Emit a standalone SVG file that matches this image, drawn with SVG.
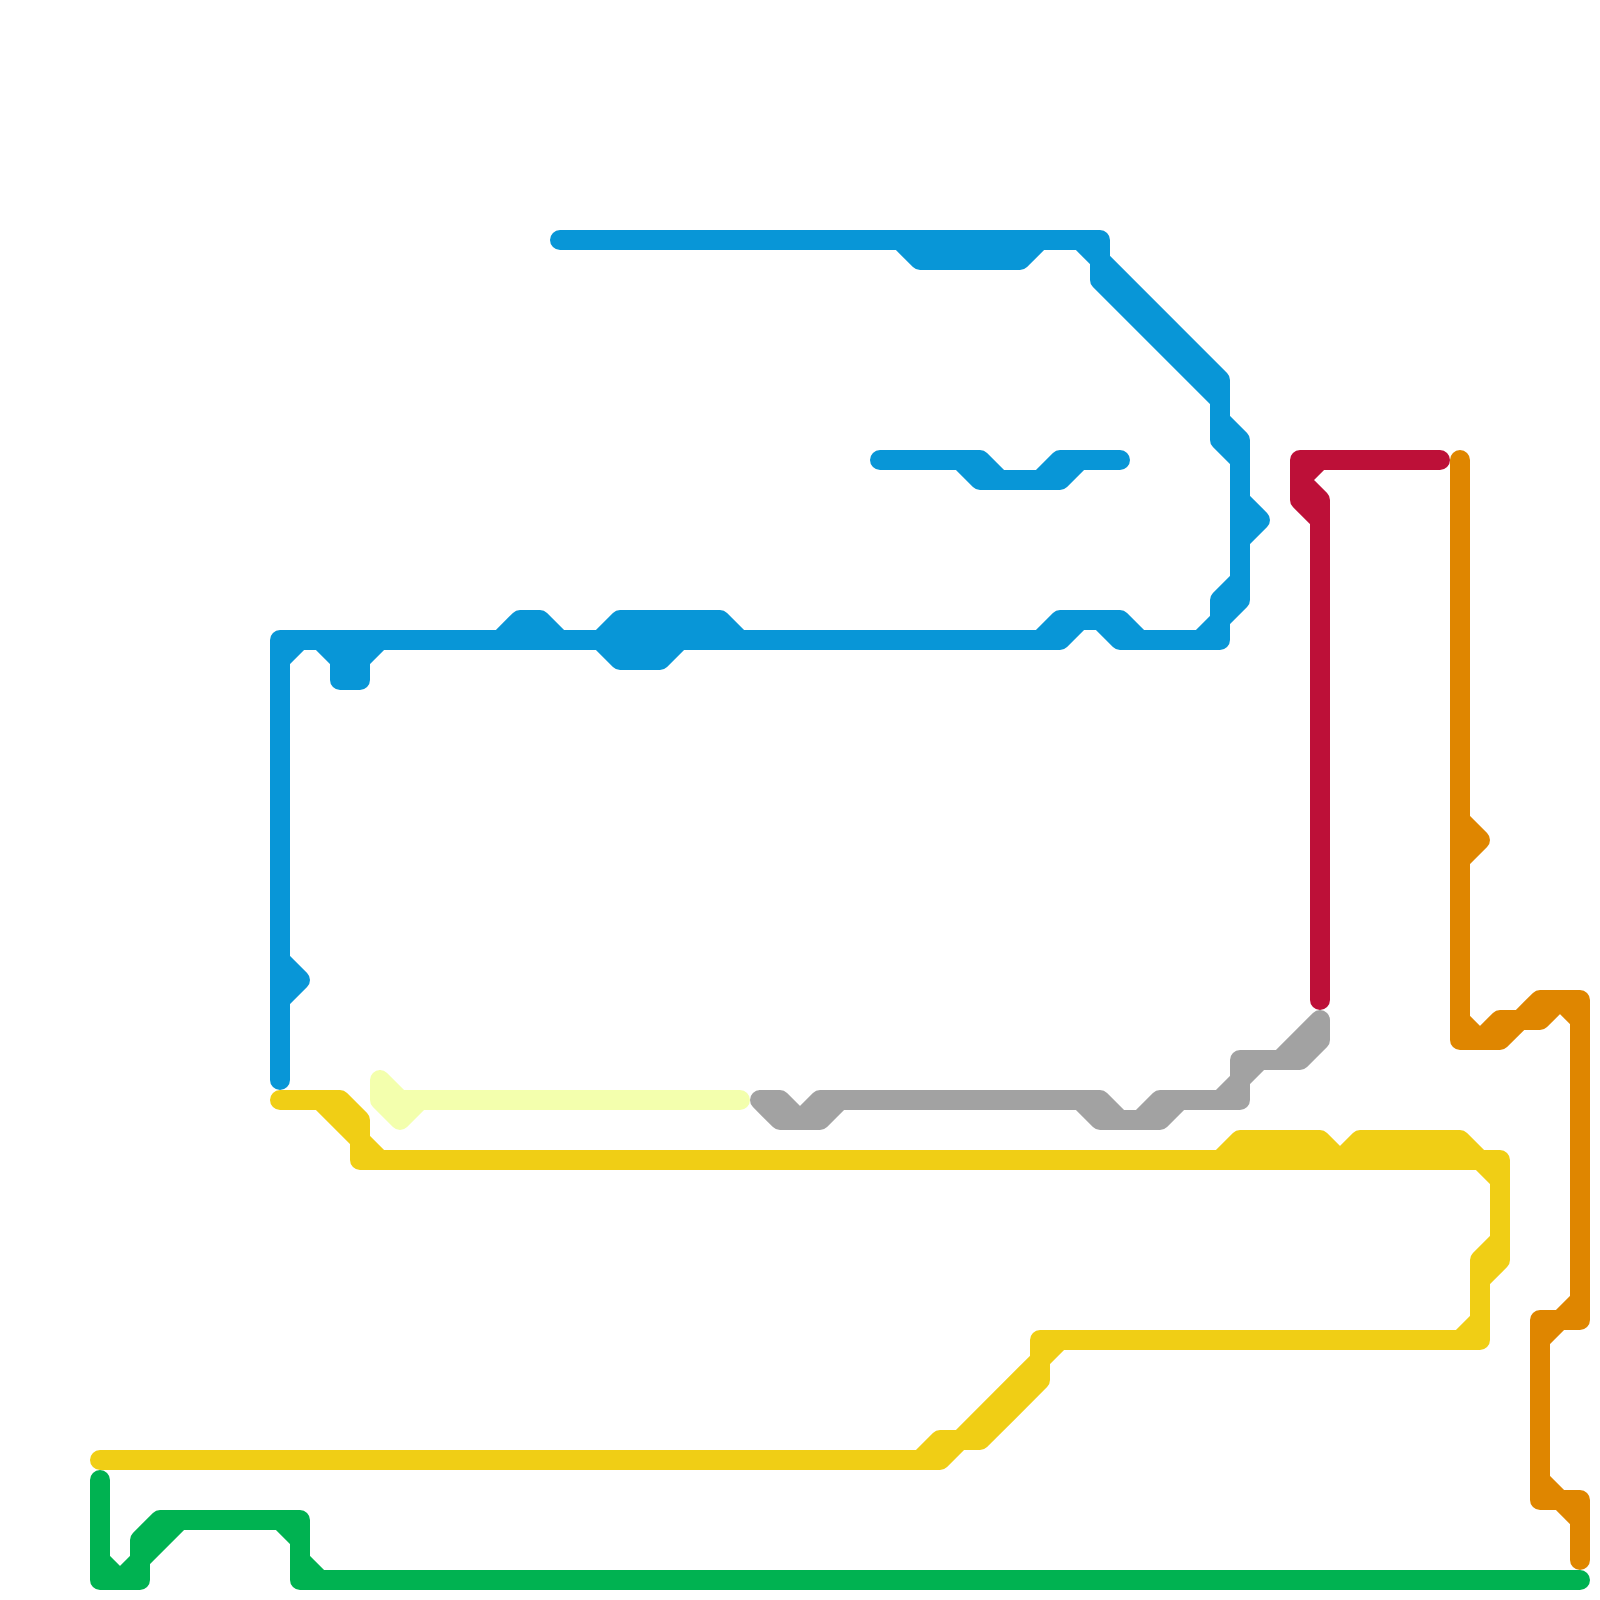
<svg xmlns="http://www.w3.org/2000/svg" width="1600" height="1600" viewBox="0 0 1600 1600">
<style>
.l{fill:none;stroke-width:20;stroke-linecap:round;stroke-linejoin:round}
.blue{stroke:#0896d7}.yellow{stroke:#f0ce15}.green{stroke:#00b251}.orange{stroke:#df8600}.red{stroke:#bd1038}.gray{stroke:#a2a2a2}.pale{stroke:#f3ffad}
</style>
<rect width="1600" height="1600" fill="#fff"/>
<g id="connectors">
<g id="line-blue-main"><path class="l blue" d="M560 240H1100V280L1220 400V440L1240 460V600L1220 620V640H1120L1100 620H1080L1060 640H280V1080M900 240L920 260H1020L1040 240M1080 240L1100 260L1220 380V420L1240 440V460M1240 500L1260 520L1240 540M1200 640L1220 620V600L1240 580M1040 640L1060 620H1120L1140 640M300 640L280 660M320 640L340 660V680H360V660L380 640M340 640V660M360 640V660M500 640L520 620H540L560 640M600 640L620 620H720L740 640M600 640L620 660H660L680 640M280 960L300 980L280 1000"/></g>
<g id="line-blue-short"><path class="l blue" d="M880 460H980L1000 480H1060L1080 460H1120M960 460L980 480H1000M1040 480L1060 460H1080"/></g>
<g id="line-red"><path class="l red" d="M1440 460H1300V500L1320 520V1000M1320 460L1300 480L1320 500V520"/></g>
<g id="line-orange"><path class="l orange" d="M1460 460V1040H1500L1520 1020H1540L1560 1000L1580 1020V1320H1540V1500H1560L1580 1520V1560M1460 1020L1480 1040L1500 1020H1520L1540 1000H1580V1020M1580 1300L1560 1320M1540 1340L1560 1320M1540 1480L1560 1500H1580V1520M1460 820L1480 840L1460 860"/></g>
<g id="line-gray"><path class="l gray" d="M760 1100H780L800 1120L820 1100H1100L1120 1120H1140L1160 1100H1240V1060H1280L1320 1020V1040L1300 1060H1280M760 1100L780 1120H820L840 1100M1080 1100L1100 1120H1160L1180 1100M1240 1080L1260 1060H1300M1240 1080L1220 1100"/></g>
<g id="line-pale"><path class="l pale" d="M380 1080V1100L400 1120L420 1100H740M380 1080L400 1100H420"/></g>
<g id="line-yellow"><path class="l yellow" d="M280 1100H340L360 1120V1160H1500V1260L1480 1280V1340H1040V1380L980 1440H940L920 1460H100M320 1100L360 1140L380 1160M1220 1160L1240 1140H1320L1340 1160L1360 1140H1460L1480 1160L1500 1180M1500 1240L1480 1260V1280M1480 1320L1460 1340M1060 1340L1040 1360L960 1440M920 1460H940L960 1440H980"/></g>
<g id="line-green"><path class="l green" d="M100 1480V1580H140V1540L160 1520H300V1580H1580M100 1560L120 1580L140 1560L180 1520M280 1520L300 1540M300 1560L320 1580"/></g>
</g>
</svg>
